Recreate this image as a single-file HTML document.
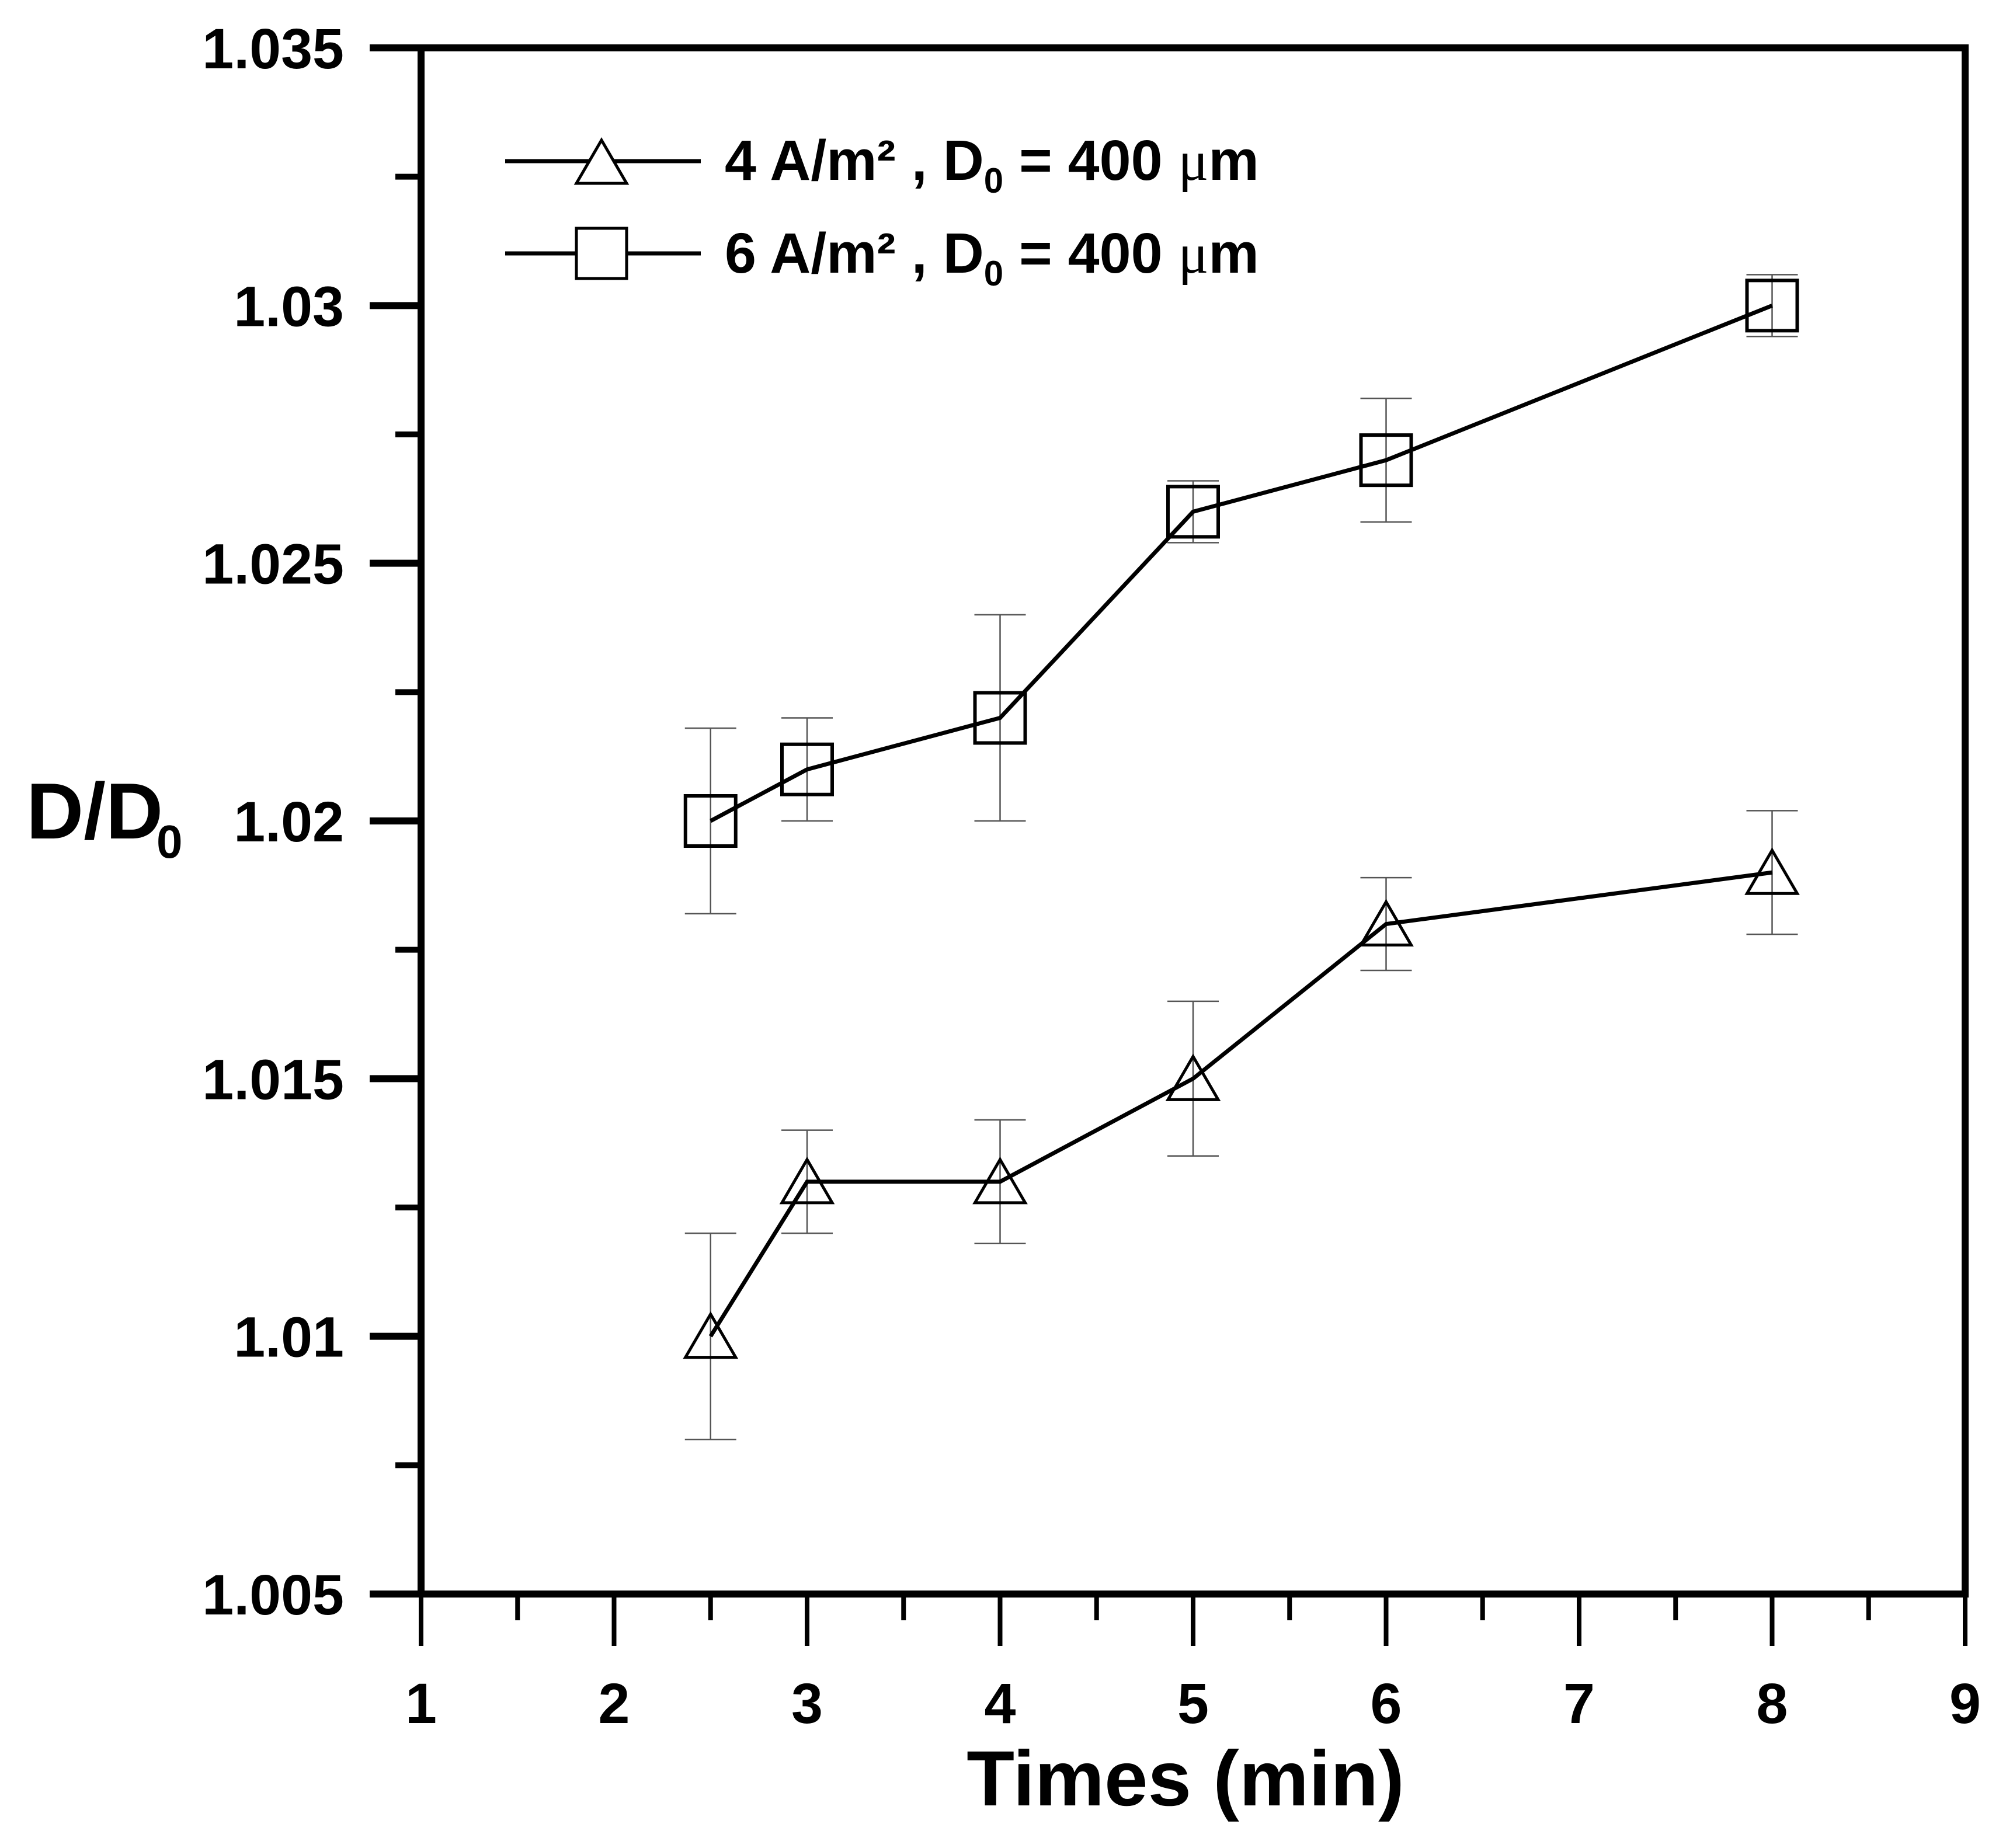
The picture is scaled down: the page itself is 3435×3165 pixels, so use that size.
<!DOCTYPE html>
<html><head><meta charset="utf-8"><style>
html,body{margin:0;padding:0;background:#fff}
svg{display:block}
text{font-family:"Liberation Sans",Arial,sans-serif;font-weight:bold;fill:#000}
</style></head><body>
<svg id="chart" xmlns="http://www.w3.org/2000/svg" width="3435" height="3165" viewBox="0 0 3435 3165">
<rect width="3435" height="3165" fill="#fff"/>
<g id="axes"></g>
<g id="series"></g>
<text x="45" y="1436" font-size="136">D/D</text>
<text x="268" y="1469" font-size="80">0</text>
<text x="2030" y="3092" font-size="134" text-anchor="middle">Times (min)</text>
<g id="legend">
<line x1="865" y1="276" x2="1200" y2="276" stroke="#000" stroke-width="7"/>
<polygon points="1030,240 1073,314 987,314" fill="#fff" stroke="#000" stroke-width="5"/>
<text x="1241" y="308" font-size="97">4 A/m² , D<tspan font-size="60" dy="22">0</tspan><tspan dy="-22"> = 400 </tspan><tspan font-family="'Liberation Serif',serif" font-weight="normal">μ</tspan>m</text>
<line x1="865" y1="434" x2="1200" y2="434" stroke="#000" stroke-width="7"/>
<rect x="987" y="391" width="86" height="86" fill="#fff" stroke="#000" stroke-width="5"/>
<text x="1241" y="467" font-size="97">6 A/m² , D<tspan font-size="60" dy="22">0</tspan><tspan dy="-22"> = 400 </tspan><tspan font-family="'Liberation Serif',serif" font-weight="normal">μ</tspan>m</text>
</g>
</svg>
<script>
const xTicks = [1,2,3,4,5,6,7,8,9];
const yTicks = [1.005,1.01,1.015,1.02,1.025,1.03,1.035];
const yTickLabels = ["1.005","1.01","1.015","1.02","1.025","1.03","1.035"];
const times = [2.5,3,4,5,6,8];
const series4 = [1.010,1.013,1.013,1.015,1.018,1.019];
const err4 = [0.002,0.001,0.0012,0.0015,0.0009,0.0012];
const series6 = [1.020,1.021,1.022,1.026,1.027,1.030];
const err6 = [0.0018,0.001,0.002,0.0006,0.0012,0.0006];

const L=721,R=3365,T=82,B=2730,X0=1,X1=9,Y0=1.005,Y1=1.035;
const sx=v=>L+(v-X0)/(X1-X0)*(R-L);
const sy=v=>B-(v-Y0)/(Y1-Y0)*(B-T);
const NS="http://www.w3.org/2000/svg";
function mk(tag,attrs,parent){const e=document.createElementNS(NS,tag);for(const k in attrs)e.setAttribute(k,attrs[k]);parent.appendChild(e);return e;}
const axes=document.getElementById('axes'), ser=document.getElementById('series');

let e;
e=mk('rect',{x:L,y:T,width:R-L,height:B-T,fill:'none',stroke:'#000','stroke-width':12},axes);


yTicks.forEach((v,i)=>{
  const t=mk('line',{x1:L-88,x2:L,y1:sy(v),y2:sy(v),stroke:'#000','stroke-width':12},axes);
  
  
  if(i<yTicks.length-1){
    const m=mk('line',{x1:L-44,x2:L,y1:sy(v+0.0025),y2:sy(v+0.0025),stroke:'#000','stroke-width':10},axes);
    
    
  }
  const lb=mk('text',{x:589,y:sy(v)+35,'font-size':97,'text-anchor':'end'},axes);
  lb.textContent=yTickLabels[i];
  
  
});
xTicks.forEach((v,i)=>{
  const t=mk('line',{x1:sx(v),x2:sx(v),y1:B,y2:B+89,stroke:'#000','stroke-width':8},axes);
  
  
  if(i<xTicks.length-1){
    const m=mk('line',{x1:sx(v+0.5),x2:sx(v+0.5),y1:B,y2:B+45,stroke:'#000','stroke-width':8},axes);
    
    
  }
  const lb=mk('text',{x:sx(v),y:2951,'font-size':97,'text-anchor':'middle'},axes);
  lb.textContent=String(v);
  
  
});
function drawSeries(vals,errs,shape,name){
  const g=mk('g',{},ser);
  
  
  vals.forEach((v,i)=>{
    const x=sx(times[i]),y1=sy(v+errs[i]),y2=sy(v-errs[i]);
    const eb=mk('path',{d:`M${x},${y1}V${y2}M${x-44},${y1}H${x+44}M${x-44},${y2}H${x+44}`,stroke:'#555','stroke-width':2.5,fill:'none'},g);
    
    
  });
  const pl=mk('polyline',{points:vals.map((v,i)=>sx(times[i])+','+sy(v)).join(' '),fill:'none',stroke:'#000','stroke-width':7},g);
  
  
  vals.forEach((v,i)=>{
    const x=sx(times[i]),y=sy(v);
    let m;
    if(shape==='sq') m=mk('rect',{x:x-43,y:y-43,width:86,height:86,fill:'none',stroke:'#000','stroke-width':6},g);
    else m=mk('polygon',{points:`${x},${y-38} ${x+43},${y+36} ${x-43},${y+36}`,fill:'none',stroke:'#000','stroke-width':5},g);
    
    
  });
}
drawSeries(series4,err4,'tri','series-4-a-m2');
drawSeries(series6,err6,'sq','series-6-a-m2');
</script>
</body></html>
